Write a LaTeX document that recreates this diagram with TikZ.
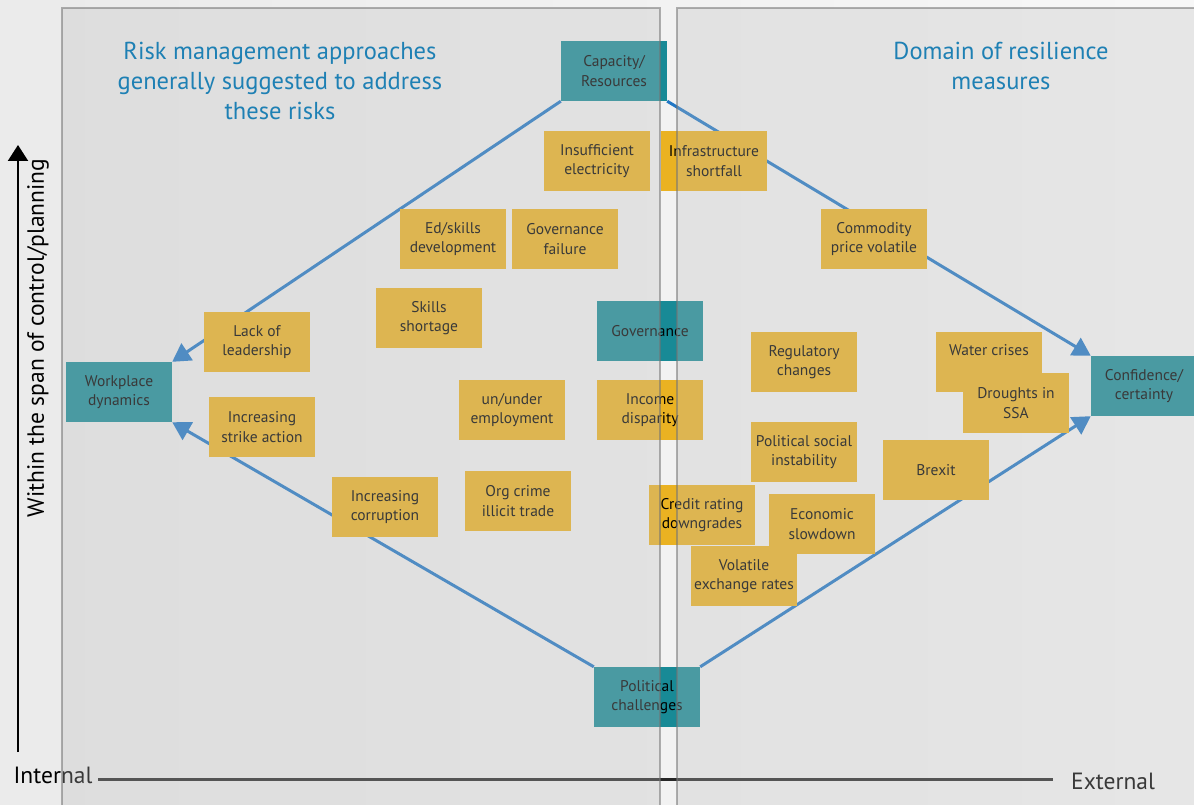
\documentclass[tikz,border=0pt]{standalone}
\usepackage{fontspec}
\setmainfont{PT Sans}
\usepackage{xcolor}
\usetikzlibrary{arrows.meta}
\definecolor{tealbox}{RGB}{24,138,150}
\definecolor{ochrebox}{RGB}{234,178,34}
\definecolor{linkblue}{RGB}{33,119,197}
\definecolor{titleblue}{RGB}{30,128,180}
\tikzset{
  box/.style={minimum width=106pt, minimum height=60pt, inner sep=0pt, align=center,
    font=\fontsize{15.5}{19.5}\selectfont, text=black},
  driver/.style={box, fill=tealbox},
  risk/.style={box, fill=ochrebox},
  link/.style={draw=linkblue, line width=3pt, -{Triangle[length=18pt,width=20pt]}},
  panel/.style={fill=black!25, fill opacity=0.3, draw=black!55, draw opacity=0.55, line width=2.5pt},
  heading/.style={align=center, text=titleblue, font=\fontsize{24.5}{30}\selectfont},
  axislabel/.style={font=\fontsize{23.5}{26}\selectfont}
}
\begin{document}
\begin{tikzpicture}[x=1pt, y=-1pt]
\useasboundingbox (0,0) rectangle (1194,805);
\shade[left color=black!8, right color=black!3] (0,0) rectangle (1194,805);
\coordinate (axb) at (18,752);
\coordinate (axt) at (18,145);
\coordinate (axl) at (98,779);
\coordinate (axr) at (1053,779);
\draw [line width=2pt, -{Triangle[length=16pt,width=20pt]}] (axb) -- (axt);
\node [axislabel, rotate=90] (span) at (38,338) {Within the span of control/planning};
\draw [line width=3pt, black!85] (axl) -- (axr);
\node [axislabel] (int) at (53,775) {Internal};
\node [axislabel] (ext) at (1113,781) {External};
\node [driver] (cap) at (614,71) {Capacity/\\Resources};
\node [driver] (work) at (119,392) {Workplace\\dynamics};
\node [driver] (conf) at (1144,386) {Confidence/\\certainty};
\node [driver] (polch) at (647,697) {Political\\challenges};
\node [driver] (gov) at (650,331) {Governance};
\draw [link] (cap.south west) -- (work.north east);
\draw [link] (polch.north west) -- (work.south east);
\draw [link] (cap.south east) -- (conf.north west);
\draw [link] (polch.north east) -- (conf.south west);
\node [risk] (elec) at (597,161) {Insufficient\\electricity};
\node [risk] (infra) at (714,161) {Infrastructure\\shortfall};
\node [risk] (edsk) at (453,239) {Ed/skills\\development};
\node [risk] (govfail) at (565,239) {Governance\\failure};
\node [risk] (comm) at (874,239) {Commodity\\price volatile};
\node [risk] (skills) at (429,318) {Skills\\shortage};
\node [risk] (lead) at (257,342) {Lack of\\leadership};
\node [risk] (reg) at (804,362) {Regulatory\\changes};
\node [risk, text height=23pt, text depth=37pt] (water) at (989,362) {Water crises};
\node [risk] (drought) at (1016,403) {Droughts in\\SSA};
\node [risk] (strike) at (262,427) {Increasing\\strike action};
\node [risk] (unemp) at (512,410) {un/under\\employment};
\node [risk] (income) at (650,410) {Income\\disparity};
\node [risk] (polsoc) at (804,452) {Political social\\instability};
\node [risk] (brexit) at (936,470) {Brexit};
\node [risk] (corrupt) at (385,507) {Increasing\\corruption};
\node [risk] (crime) at (518,501) {Org crime\\illicit trade};
\node [risk] (credit) at (702,515) {Credit rating\\downgrades};
\node [risk] (econ) at (822,524) {Economic\\slowdown};
\node [risk] (volat) at (744,576) {Volatile\\exchange rates};
\draw [panel] (62,8) rectangle (660,830);
\draw [panel] (677,8) rectangle (1220,830);
\node [heading] (riskttl) at (280,81) {Risk management approaches\\generally suggested to address\\these risks};
\node [heading] (domttl) at (1001,66) {Domain of resilience\\measures};
\end{tikzpicture}
\end{document}
